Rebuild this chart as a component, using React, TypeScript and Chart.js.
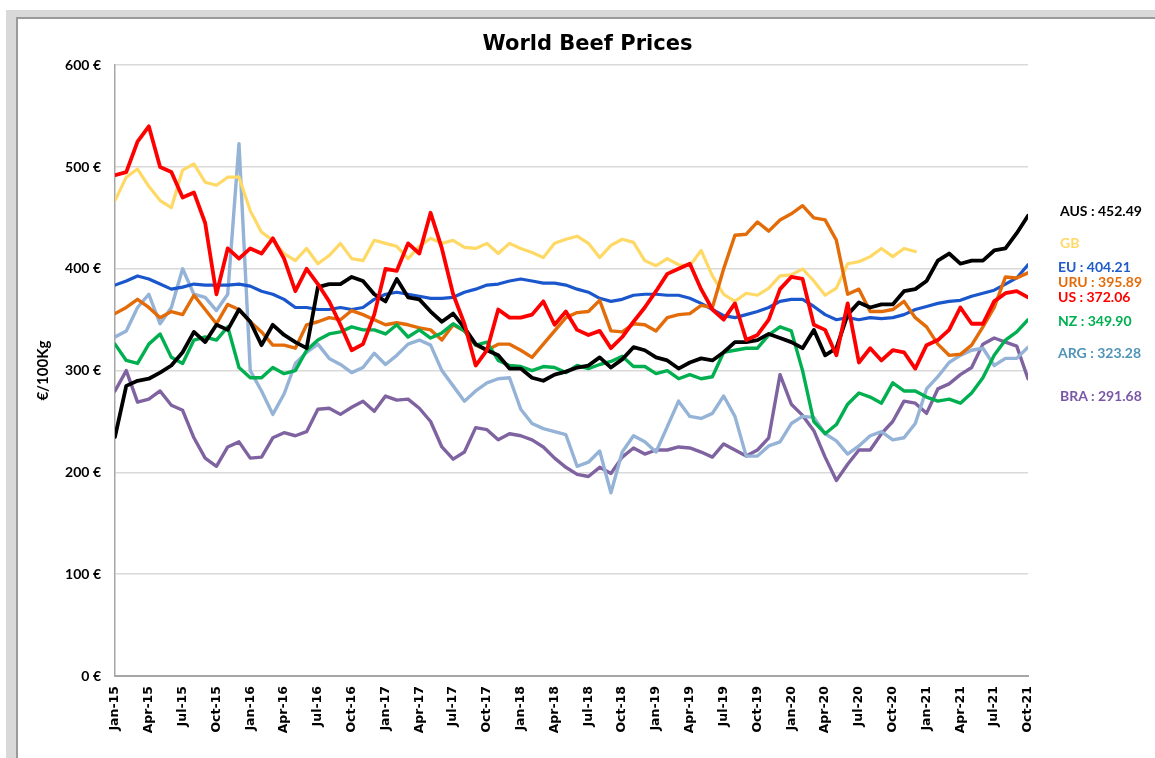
import React, { useEffect, useRef } from "react";
import { Chart, registerables } from "chart.js";
Chart.register(...registerables);

// x positions: month index since Jan-15 (0 = Jan-15, 81 = Oct-21)
const months: number[] = Array.from({ length: 82 }, (_, i) => i);

const tickLabels = [
  "Jan-15", "Apr-15", "Jul-15", "Oct-15", "Jan-16", "Apr-16", "Jul-16", "Oct-16",
  "Jan-17", "Apr-17", "Jul-17", "Oct-17", "Jan-18", "Apr-18", "Jul-18", "Oct-18",
  "Jan-19", "Apr-19", "Jul-19", "Oct-19", "Jan-20", "Apr-20", "Jul-20", "Oct-20",
  "Jan-21", "Apr-21", "Jul-21", "Oct-21",
];

const yTicks = [0, 100, 200, 300, 400, 500, 600];

// €/100Kg, monthly readings
const AUS = [
  235, 285, 290, 292, 298, 305, 318, 338, 328, 345, 340, 360, 348, 325, 345, 335, 328,
  322, 382, 385, 385, 392, 388, 375, 368, 390, 372, 370, 358, 348, 356, 342, 326, 320,
  315, 302, 302, 293, 290, 296, 299, 303, 305, 313, 303, 311, 323, 320, 313, 310,
  302, 308, 312, 310, 318, 328, 328, 330, 336, 332, 328, 322, 340, 315, 322, 355, 367,
  362, 365, 365, 378, 380, 388, 408, 415, 405, 408, 408, 418, 420, 435, 452,
];
const GB = [
  467, 490, 498, 481, 467, 460, 497, 503, 485, 482, 490, 490, 457, 436, 428, 415, 408,
  420, 405, 413, 425, 410, 408, 428, 425, 422, 410, 422, 430, 425, 428, 421, 420, 425,
  415, 425, 420, 416, 411, 425, 429, 432, 425, 411, 423, 429, 426, 408, 403, 410,
  404, 403, 418, 393, 375, 368, 376, 374, 381, 393, 394, 400, 388, 374, 381, 405, 407,
  412, 420, 412, 420, 417, null, null, null, null, null, null, null, null, null, null,
];
const EU = [
  384, 388, 393, 390, 385, 380, 382, 385, 384, 384, 384, 385, 383, 378, 375, 370, 362,
  362, 360, 360, 362, 360, 362, 370, 375, 377, 375, 373, 371, 371, 372, 377, 380, 384,
  385, 388, 390, 388, 386, 386, 384, 380, 377, 371, 368, 370, 374, 375, 375, 374,
  374, 371, 366, 360, 354, 352, 355, 358, 362, 368, 370, 370, 363, 355, 350, 352, 350,
  352, 351, 352, 355, 360, 363, 366, 368, 369, 373, 376, 379, 385, 391, 404,
];
const URU = [
  356, 362, 370, 362, 352, 358, 355, 374, 360, 346, 365, 360, 348, 338, 325, 325, 322,
  345, 348, 352, 350, 359, 355, 350, 345, 347, 345, 342, 340, 330, 345, 339, 325, 320,
  326, 326, 320, 313, 326, 339, 352, 357, 358, 369, 339, 338, 346, 345, 339, 352,
  355, 356, 364, 362, 400, 433, 434, 446, 437, 448, 454, 462, 450, 448, 428, 375, 380,
  358, 358, 360, 368, 352, 343, 326, 315, 316, 325, 343, 362, 392, 391, 396,
];
const US = [
  492, 495, 525, 540, 500, 495, 470, 475, 445, 375, 420, 410, 420, 415, 430, 410, 378,
  400, 385, 368, 345, 320, 326, 355, 400, 398, 425, 415, 455, 420, 375, 346, 305, 320,
  360, 352, 352, 355, 368, 345, 358, 340, 335, 339, 322, 333, 348, 362, 378, 395,
  400, 405, 380, 360, 350, 366, 330, 335, 350, 380, 392, 390, 345, 340, 315, 366, 308,
  322, 310, 320, 318, 302, 325, 330, 340, 362, 346, 346, 368, 376, 378, 372,
];
const NZ = [
  326, 310, 307, 326, 336, 313, 307, 330, 333, 330, 343, 303, 293, 293, 303, 297, 300,
  320, 330, 336, 338, 343, 340, 340, 336, 345, 333, 340, 332, 337, 346, 339, 325, 328,
  310, 305, 304, 300, 304, 303, 298, 305, 302, 306, 309, 314, 304, 304, 297, 300,
  292, 296, 292, 294, 318, 320, 322, 322, 335, 343, 339, 300, 250, 238, 247, 267, 278,
  274, 268, 288, 280, 280, 274, 270, 272, 268, 278, 293, 315, 330, 338, 350,
];
const ARG = [
  333, 339, 362, 375, 346, 362, 400, 375, 372, 359, 375, 523, 300, 280, 257, 277, 307,
  318, 326, 312, 306, 298, 303, 317, 306, 315, 326, 330, 325, 300, 285, 270, 280, 288,
  292, 293, 262, 248, 243, 240, 237, 206, 210, 221, 180, 220, 236, 230, 220, 245,
  270, 255, 253, 258, 275, 255, 216, 216, 226, 230, 248, 255, 254, 238, 231, 218, 226,
  236, 240, 232, 234, 248, 282, 294, 308, 315, 320, 322, 305, 312, 312, 323,
];
const BRA = [
  280, 300, 269, 272, 280, 266, 261, 234, 214, 206, 225, 230, 214, 215, 234, 239, 236,
  240, 262, 263, 257, 264, 270, 260, 275, 271, 272, 263, 250, 225, 213, 220, 244, 242,
  232, 238, 236, 232, 225, 214, 205, 198, 196, 205, 199, 215, 224, 218, 222, 222,
  225, 224, 220, 215, 228, 222, 216, 222, 234, 296, 267, 256, 241, 215, 192, 208, 222,
  222, 238, 250, 270, 268, 258, 282, 287, 296, 303, 326, 332, 328, 324, 292,
];

const seriesNames = ["AUS", "GB", "EU", "URU", "US", "NZ", "ARG", "BRA"];
const latestValues = ["452.49", "", "404.21", "395.89", "372.06", "349.90", "323.28", "291.68"];

// styling
const lineColors: Record<string, string> = {
  AUS: "#000000", GB: "#FFD966", EU: "#1A56CC", URU: "#E36C09",
  US: "#FF0000", NZ: "#00B050", ARG: "#95B3D7", BRA: "#7F63A1",
};
const labelColors: Record<string, string> = {
  AUS: "#000000", GB: "#FFD966", EU: "#1F5BC9", URU: "#E46C0A",
  US: "#FF0000", NZ: "#00B050", ARG: "#4F94B8", BRA: "#7B56A8",
};
const labelCenters: Record<string, [number, number]> = {
  AUS: [1060, 211], GB: [1060, 243], EU: [1058, 267], URU: [1058, 282],
  US: [1058, 297], NZ: [1058, 321], ARG: [1058, 353], BRA: [1060, 396],
};

export default function App() {
  const ref = useRef<HTMLCanvasElement>(null);

  useEffect(() => {
    if (!ref.current) return;
    const mk = (vals: (number | null)[]) =>
      months.map((m, i) => ({ x: m, y: vals[i] === undefined ? null : vals[i] }));
    const ds = (name: string, vals: (number | null)[], width: number) => ({
      label: name,
      data: mk(vals),
      borderColor: lineColors[name],
      backgroundColor: lineColors[name],
      borderWidth: width,
      pointRadius: 0,
      fill: false,
      spanGaps: false,
      yAxisID: "y",
    });
    const chart = new Chart(ref.current, {
      type: "line",
      data: {
        datasets: [
          ds("US", US, 3.8),
          ds("AUS", AUS, 3.8),
          ds("NZ", NZ, 3.4),
          ds("URU", URU, 3.4),
          ds("EU", EU, 3.2),
          ds("GB", GB, 3.2),
          ds("ARG", ARG, 3.4),
          ds("BRA", BRA, 3.4),
        ] as any,
      },
      options: {
        animation: false,
        responsive: false,
        maintainAspectRatio: false,
        layout: { padding: { left: 20, top: 20, right: 0, bottom: 0 } },
        elements: {
          line: { tension: 0, borderJoinStyle: "round", borderCapStyle: "round" },
          point: { radius: 0 },
        },
        plugins: {
          legend: { display: false },
          tooltip: { enabled: false },
          title: {
            display: true,
            text: "World Beef Prices",
            color: "#000",
            font: { family: "DejaVu Sans", size: 21, weight: "bold" },
            padding: { top: 12, bottom: 8 },
          },
        },
        scales: {
          x: {
            type: "linear",
            min: 0,
            max: 81,
            grid: { display: false, drawTicks: false },
            border: { display: true, color: "#a6a6a6", width: 2 },
            afterBuildTicks: (s: any) => {
              s.ticks = tickLabels.map((_, i) => ({ value: i * 3 }));
            },
            afterFit: (s: any) => {
              s.height = 82;
            },
            ticks: {
              autoSkip: false,
              minRotation: 90,
              maxRotation: 90,
              padding: 10,
              color: "#000",
              font: { family: "DejaVu Sans", size: 12.5, weight: "bold" },
              callback: (v: any) => tickLabels[Math.round(Number(v) / 3)],
            },
          },
          y: {
            position: "left",
            min: 0,
            max: 600,
            afterBuildTicks: (s: any) => {
              s.ticks = yTicks.map((v) => ({ value: v }));
            },
            afterFit: (s: any) => {
              s.width = 95;
            },
            grid: { color: "#d9d9d9", lineWidth: 1.5, drawTicks: false },
            border: { display: true, color: "#a6a6a6", width: 1.5 },
            ticks: {
              padding: 14,
              color: "#000",
              font: { family: "Lato", size: 14, weight: "bold" },
              callback: (v: any) => `${v} €`,
            },
            title: {
              display: true,
              text: "€/100Kg",
              color: "#000",
              font: { family: "Lato", size: 15, weight: "bold" },
              padding: { top: 14, bottom: 0 },
            },
          },
          yRight: {
            position: "right",
            min: 0,
            max: 600,
            grid: { display: false, drawTicks: false },
            border: { display: false },
            ticks: { display: false },
            afterFit: (s: any) => {
              s.width = 127;
            },
          },
        },
      } as any,
    });
    return () => chart.destroy();
  }, []);

  return (
    <div style={{ position: "fixed", left: 0, top: 0, width: 1155, height: 758, background: "#fff", overflow: "hidden" }}>
      <div style={{ position: "absolute", left: 6, top: 10, right: 0, bottom: 0, background: "#d9d9d9" }} />
      <div
        style={{
          position: "absolute", left: 16, top: 17, right: 0, bottom: 0, background: "#fff",
          borderTop: "2px solid #9a9a9a", borderLeft: "2px solid #9a9a9a",
        }}
      />
      <canvas
        ref={ref}
        width={1155}
        height={758}
        style={{ position: "absolute", left: 0, top: 0, width: 1155, height: 758 }}
      />
      {seriesNames.map((name, i) => {
        const [lx, cy] = labelCenters[name];
        const text = latestValues[i] ? `${name} : ${latestValues[i]}` : name;
        return (
          <div
            key={name}
            style={{
              position: "absolute", left: lx, top: cy - 9, height: 18, lineHeight: "18px",
              fontFamily: "Lato", fontWeight: "bold", fontSize: 14, color: labelColors[name],
              whiteSpace: "nowrap",
            }}
          >
            {text}
          </div>
        );
      })}
    </div>
  );
}
